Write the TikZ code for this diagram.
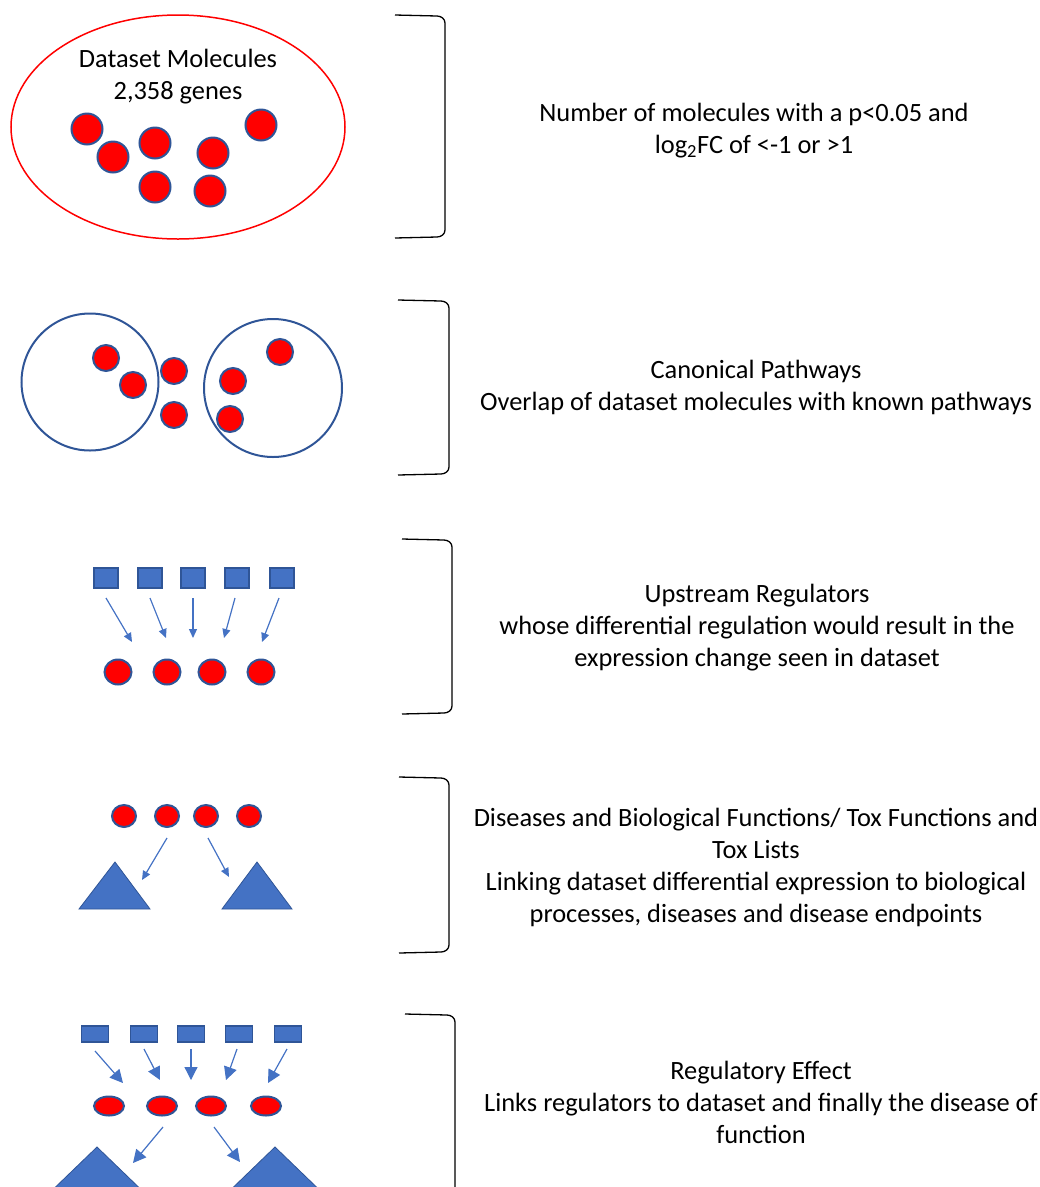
\documentclass[tikz,border=0pt]{standalone}
\usepackage{fontspec}
\setmainfont{Carlito}
\usetikzlibrary{arrows.meta,shapes.geometric}
\definecolor{molred}{HTML}{FF0000}
\definecolor{edgeblue}{HTML}{2F5597}
\definecolor{fillblue}{HTML}{4472C4}

\begin{document}
\begin{tikzpicture}[x=1pt, y=-1pt,
	label text/.style={align=center, font=\fontsize{26.4}{32}\selectfont},
	mol/.style={ellipse, fill=molred, draw=edgeblue, line width=2pt, inner sep=0pt},
	regbox/.style={rectangle, fill=fillblue, draw=edgeblue, line width=1.4pt, inner sep=0pt},
	tri/.style={fill=fillblue, draw=edgeblue, line width=0.8pt, line join=miter},
	arr/.style={draw=fillblue, line width=1.2pt, -{Triangle[width=8pt,length=9pt]}},
	bigarr/.style={draw=fillblue, line width=1.2pt, -{Triangle[width=13pt,length=13pt]}},
	brace/.style={draw=black, line width=1.3pt}]
	\useasboundingbox (0,0) rectangle (1040,1187);
	\clip (0,0) rectangle (1040,1187);

	% brackets
	\foreach \xa/\ya/\xb/\yb in {395/15/445/238, 398/300/449/475, 402/539/452/714, 399/777/449/953, 405/1014/455/1210}
		\draw[brace] (\xa,\ya) -- (\xb-8,\ya+1) to[out=0,in=90] (\xb,\ya+8) -- (\xb,\yb-8) to[out=-90,in=0] (\xb-8,\yb-1) -- (\xa,\yb);

	% dataset molecules
	\node[ellipse, draw=molred, line width=1.5pt, minimum width=334pt, minimum height=224pt] (pool) at (178,127) {};
	\node[label text] (pooltitle) at (178,77) {Dataset Molecules\\2,358 genes};
	\foreach \x/\y [count=\i] in {87/129, 113/157, 155/143, 213/153, 261/125, 155/187, 210/191}
		\node[mol, minimum size=31pt] (m\i) at (\x,\y) {};
	\node[label text] (t1) at (754,131) {Number of molecules with a p<0.05 and\\log\textsubscript{2}FC of <-1 or >1};

	% canonical pathways
	\node[circle, draw=edgeblue, line width=2pt, minimum size=137pt] (pathA) at (90,382) {};
	\node[circle, draw=edgeblue, line width=2pt, minimum size=138pt] (pathB) at (273,388) {};
	\foreach \x/\y [count=\i] in {106/358, 133/385, 174/371, 174/415, 280/352, 233/381, 230/419}
		\node[mol, minimum size=26pt] (p\i) at (\x,\y) {};
	\node[label text] (t2) at (756,387) {Canonical Pathways\\Overlap of dataset molecules with known pathways};

	% upstream regulators
	\foreach \x [count=\i] in {106,150,193,237,282}
		\node[regbox, minimum width=24pt, minimum height=20pt] (r\i) at (\x,578) {};
	\foreach \x [count=\i] in {118,167,212,261}
		\node[mol, minimum width=27pt, minimum height=25pt] (g\i) at (\x,672) {};
	\foreach \xa/\xb/\yb [count=\i] in {106/132/642, 150/166/638, 193/193/638, 235/224/638, 279/262/642}{
		\coordinate (ua\i) at (\xa,598);
		\coordinate (ub\i) at (\xb,\yb);
		\draw[arr] (ua\i) -- (ub\i);
	}
	\node[label text] (t3) at (757,628) {Upstream Regulators\\whose differential regulation would result in the\\expression change seen in dataset};

	% diseases and functions
	\foreach \x [count=\i] in {124,167,206,249}
		\node[mol, minimum width=24pt, minimum height=22pt] (d\i) at (\x,816) {};
	\draw[tri] (79,909) -- (115,862) -- (150,909) -- cycle;
	\draw[tri] (222,909) -- (257,862) -- (292,909) -- cycle;
	\coordinate (da1) at (167,838);
	\coordinate (db1) at (142,880);
	\coordinate (da2) at (208,838);
	\coordinate (db2) at (229,877);
	\draw[arr] (da1) -- (db1);
	\draw[arr] (da2) -- (db2);
	\node[label text] (t4) at (756,867) {Diseases and Biological Functions/ Tox Functions and\\Tox Lists\\Linking dataset differential expression to biological\\processes, diseases and disease endpoints};

	% regulatory effect
	\foreach \x [count=\i] in {95,144,191,239,288}
		\node[regbox, minimum width=27pt, minimum height=16pt] (e\i) at (\x,1034) {};
	\foreach \x [count=\i] in {109,162,211,266}
		\node[mol, minimum width=30pt, minimum height=19pt] (f\i) at (\x,1106) {};
	\foreach \xa/\ya/\xb/\yb [count=\i] in {95/1051/123/1083, 144/1049/160/1080, 191/1049/191/1080, 237/1049/226/1080, 287/1049/268/1083}{
		\coordinate (ea\i) at (\xa,\ya);
		\coordinate (eb\i) at (\xb,\yb);
		\draw[bigarr] (ea\i) -- (eb\i);
	}
	\draw[tri] (40,1202) -- (97,1147) -- (154,1202) -- cycle;
	\draw[tri] (218,1202) -- (275,1147) -- (332,1202) -- cycle;
	\coordinate (fa1) at (163,1127);
	\coordinate (fb1) at (133,1163);
	\coordinate (fa2) at (214,1127);
	\coordinate (fb2) at (240,1162);
	\draw[bigarr] (fa1) -- (fb1);
	\draw[bigarr] (fa2) -- (fb2);
	\node[label text] (t5) at (761,1102) {Regulatory Effect\\Links regulators to dataset and finally the disease of\\function};
\end{tikzpicture}
\end{document}
